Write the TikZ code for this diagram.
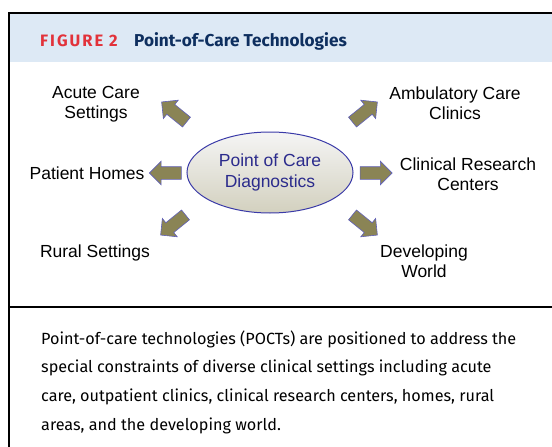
\documentclass[tikz,border=0pt]{standalone}
\usepackage{fontspec}
\setmainfont{Liberation Sans}
\newfontfamily\capfont{Fira Sans}
\usepackage{xcolor}
\usetikzlibrary{shapes.geometric, shapes.arrows}
\definecolor{hdrblue}{HTML}{DDE9F5}
\definecolor{navy}{HTML}{0E2F5F}
\definecolor{figred}{HTML}{E2323A}
\definecolor{ovline}{HTML}{3A3AA8}
\definecolor{ovtext}{HTML}{2B2B8C}
\definecolor{olive}{HTML}{8A8455}
\tikzset{
  frame/.style  = {line width=2pt, black},
  lbl/.style    = {align=center, font=\fontsize{17.5}{20.5}\selectfont, inner sep=0pt},
  poc/.style    = {ellipse, draw=ovline, line width=1pt, top color=gray!8,
                   bottom color=olive!38, align=center, text=ovtext,
                   font=\fontsize{17.5}{21}\selectfont,
                   minimum width=166pt, minimum height=81pt, inner sep=0pt},
  barr/.style   = {single arrow, draw=ovline!80, fill=olive, line width=0.6pt,
                   minimum height=32pt, inner xsep=0pt, inner ysep=6pt,
                   single arrow head extend=5.5pt, single arrow head indent=0pt},
}

\begin{document}
\begin{tikzpicture}[x=1pt, y=-1pt]
  \useasboundingbox (0,0) rectangle (552,447);
  % header band and frame
  \fill[hdrblue] (9.5,13.5) rectangle (552,62);
  \draw[frame] (552,12.5) -- (8.5,12.5) -- (8.5,447);
  \draw[frame] (8.5,307) -- (552,307);
  \node[anchor=base west, inner sep=0pt, text=figred,
        font=\capfont\bfseries\fontsize{16.5}{18}\selectfont]
    (fignum) at (40,46) {\addfontfeature{LetterSpace=12}FIGURE 2};
  \node[anchor=base west, inner sep=0pt, text=navy,
        font=\capfont\bfseries\fontsize{17.2}{20}\selectfont]
    (figtitle) at (134,46) {Point-of-Care Technologies};

  % centre
  \node[poc] (poc) at (270,172.5) {Point of Care\\Diagnostics};

  % block arrows
  \node[barr, rotate=141]  (aul) at (176.5,114) {};
  \node[barr, rotate=180]  (al)  at (168.5,173) {};
  \node[barr, rotate=-141] (adl) at (175.5,223) {};
  \node[barr, rotate=39]   (aur) at (362.5,114) {};
  \node[barr]              (ar)  at (373,173)   {};
  \node[barr, rotate=-39]  (adr) at (362.5,223) {};

  % settings
  \node[lbl] (acute)    at (96,104)  {Acute Care\\Settings};
  \node[lbl] (homes)    at (87,173)  {Patient Homes};
  \node[lbl] (rural)    at (95,253)  {Rural Settings};
  \node[lbl] (ambul)    at (455,103) {Ambulatory Care\\Clinics};
  \node[lbl] (research) at (468,174) {Clinical Research\\Centers};
  \node[lbl] (devel)    at (424,261) {Developing\\World};

  % caption
  \node[anchor=north west, align=left, inner sep=0pt,
        font=\capfont\fontsize{16.2}{28.6}\selectfont] (caption) at (41,330.5)
    {Point-of-care technologies (POCTs) are positioned to address the\\
     special constraints of diverse clinical settings including acute\\
     care, outpatient clinics, clinical research centers, homes, rural\\
     areas, and the developing world.};
\end{tikzpicture}
\end{document}
